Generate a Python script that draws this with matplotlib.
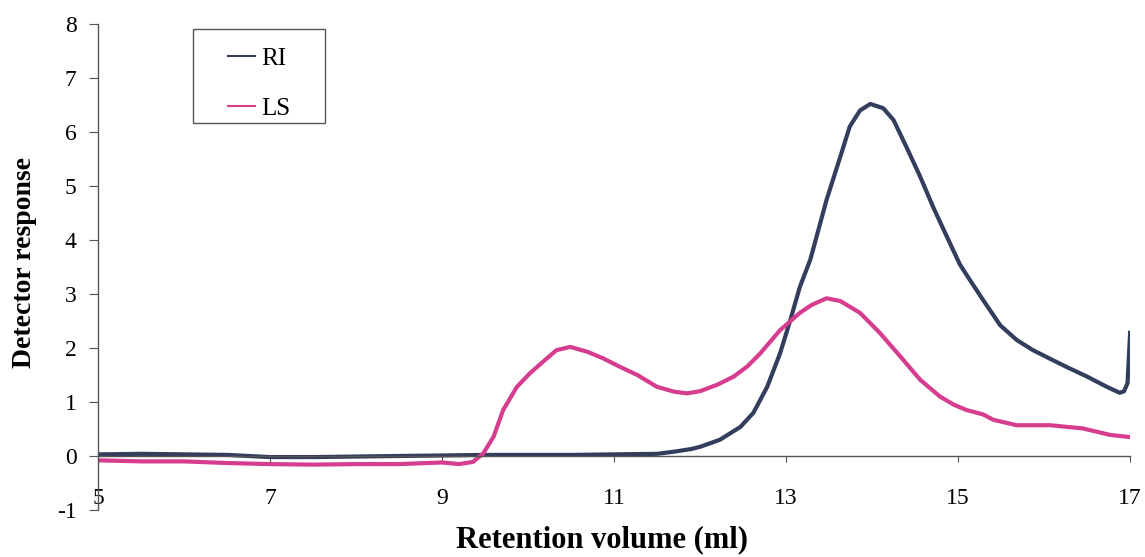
import matplotlib
matplotlib.use('Agg')
import matplotlib.pyplot as plt
from matplotlib.patches import Rectangle

# Retention volume (ml) and detector responses
ri_x = [5.0, 5.5, 6.0, 6.5, 7.0, 7.5, 8.0, 8.5, 9.0, 9.5, 10.0, 10.5, 11.0, 11.5,
        11.7, 11.9, 12.0, 12.23, 12.47, 12.62, 12.78, 12.93, 13.05, 13.16, 13.28,
        13.31, 13.47, 13.63, 13.74, 13.86, 13.98, 14.13, 14.25, 14.4, 14.56,
        14.71, 14.87, 15.02, 15.1, 15.29, 15.49, 15.68, 15.87, 16.07, 16.26,
        16.5, 16.73, 16.88, 16.93, 16.97, 17.0]
ri_y = [0.03, 0.04, 0.03, 0.02, -0.02, -0.02, -0.01, 0.0, 0.01, 0.02, 0.02, 0.02,
        0.03, 0.04, 0.08, 0.13, 0.17, 0.3, 0.54, 0.8, 1.28, 1.9, 2.52, 3.13,
        3.63, 3.8, 4.74, 5.54, 6.1, 6.4, 6.52, 6.44, 6.22, 5.72, 5.17, 4.61,
        4.06, 3.55, 3.35, 2.89, 2.42, 2.15, 1.96, 1.8, 1.65, 1.47, 1.28, 1.17,
        1.2, 1.35, 2.28]

ls_x = [5.0, 5.5, 6.0, 6.5, 7.0, 7.5, 8.0, 8.5, 9.0, 9.2, 9.36, 9.48, 9.6, 9.71,
        9.87, 10.02, 10.17, 10.33, 10.49, 10.69, 10.87, 11.07, 11.27, 11.5,
        11.7, 11.85, 12.0, 12.2, 12.39, 12.55, 12.7, 12.93, 13.16, 13.3, 13.47,
        13.63, 13.86, 14.09, 14.33, 14.56, 14.79, 14.95, 15.1, 15.29, 15.41,
        15.68, 16.07, 16.45, 16.77, 17.0]
ls_y = [-0.08, -0.1, -0.1, -0.13, -0.15, -0.16, -0.15, -0.15, -0.12, -0.15, -0.11,
        0.05, 0.36, 0.85, 1.28, 1.53, 1.74, 1.96, 2.02, 1.93, 1.81, 1.65, 1.5,
        1.28, 1.19, 1.16, 1.2, 1.32, 1.47, 1.66, 1.9, 2.33, 2.65, 2.8, 2.92,
        2.87, 2.65, 2.28, 1.84, 1.41, 1.1, 0.95, 0.85, 0.77, 0.67, 0.57, 0.57,
        0.51, 0.39, 0.35]

x_ticks = [5, 7, 9, 11, 13, 15, 17]
y_ticks = [-1, 0, 1, 2, 3, 4, 5, 6, 7, 8]

plt.rcParams['font.family'] = ['Liberation Serif', 'DejaVu Serif']
plt.rcParams['axes.unicode_minus'] = False

fig = plt.figure(figsize=(11.45, 5.57), dpi=100)
ax = fig.add_axes([0.0856, 0.0844, 0.9014, 0.8725])

ax.plot(ri_x, ri_y, color='#333d5c', linewidth=3, label='RI')
ax.plot(ls_x, ls_y, color='#d63d8f', linewidth=3, label='LS')

ax.set_xlim(5, 17)
ax.set_ylim(-1, 8)
ax.set_xticks(x_ticks)
ax.set_yticks(y_ticks)

ax.spines['top'].set_visible(False)
ax.spines['right'].set_visible(False)
ax.spines['bottom'].set_position(('data', 0))
for sp in ('left', 'bottom'):
    ax.spines[sp].set_color('#555555')
    ax.spines[sp].set_linewidth(1.0)

ax.tick_params(axis='x', direction='out', length=4.3, pad=19, labelsize=17, color='#555555')
ax.tick_params(axis='y', direction='out', length=6.5, pad=9, labelsize=17, color='#555555')

ax.set_xlabel('Retention volume (ml)', fontsize=22, fontweight='bold', va='center')
ax.xaxis.set_label_coords(0.488, -0.062)
ax.set_ylabel('Detector response', fontsize=20, fontweight='bold', va='center')
ax.yaxis.set_label_coords(-0.071, 0.51)

# legend box drawn separately so it can be as roomy as the original
ax.add_patch(Rectangle((0.092, 0.796), 0.128, 0.194, transform=ax.transAxes,
                       facecolor='white', edgecolor='#555555', linewidth=1.0, zorder=5))
leg = ax.legend(loc='upper left', bbox_to_anchor=(0.126, 0.952), fontsize=18,
                handlelength=1.08, handletextpad=0.25, labelspacing=1.1,
                borderpad=0, borderaxespad=0, frameon=False)
leg.set_zorder(6)
for line in leg.get_lines():
    line.set_linewidth(1.5)

plt.savefig('out.png', dpi=100)
plt.close()
